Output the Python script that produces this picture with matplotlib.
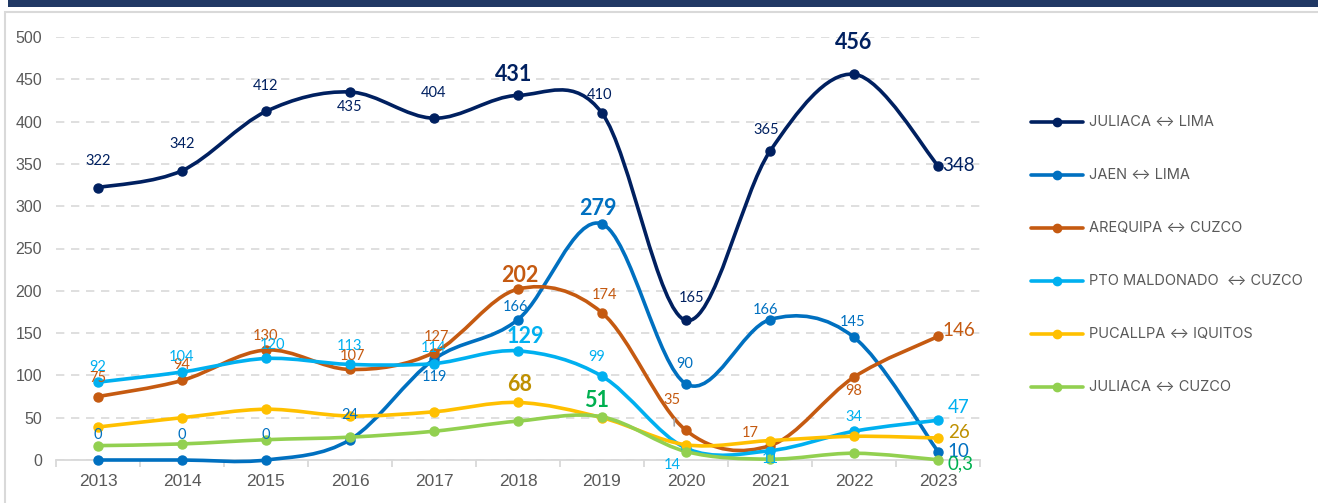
import matplotlib
matplotlib.use("Agg")
import matplotlib.pyplot as plt
from matplotlib.path import Path
from matplotlib.patches import PathPatch, Rectangle
from matplotlib.lines import Line2D

years = [2013, 2014, 2015, 2016, 2017, 2018, 2019, 2020, 2021, 2022, 2023]
juliaca_lima = [322, 342, 412, 435, 404, 431, 410, 165, 365, 456, 348]
jaen_lima = [0, 0, 0, 24, 119, 166, 279, 90, 166, 145, 10]
arequipa_cuzco = [75, 94, 130, 107, 127, 202, 174, 35, 17, 98, 146]
pto_maldonado_cuzco = [92, 104, 120, 113, 114, 129, 99, 14, 11, 34, 47]
pucallpa_iquitos = [39, 50, 60, 52, 57, 68, 50, 18, 23, 28, 26]
juliaca_cuzco = [17, 19, 24, 27, 34, 46, 51, 10, 1, 8, 0.3]

series_names = ["JULIACA \u2194 LIMA", "JAEN \u2194 LIMA", "AREQUIPA \u2194 CUZCO",
                "PTO MALDONADO  \u2194 CUZCO", "PUCALLPA \u2194 IQUITOS", "JULIACA \u2194 CUZCO"]
series_values = [juliaca_lima, jaen_lima, arequipa_cuzco, pto_maldonado_cuzco,
                 pucallpa_iquitos, juliaca_cuzco]
colors = ["#002060", "#0070C0", "#C55A11", "#00B0F0", "#FFC000", "#92D050"]

W, H = 1318, 503
fig = plt.figure(figsize=(W / 100, H / 100), dpi=100)
fig.patch.set_facecolor("white")

# header bar and frame
fig.patches.append(Rectangle((8 / W, 1 - 7 / H), 1 - 8 / W, 7 / H, transform=fig.transFigure,
                             facecolor="#203864", edgecolor="none"))
fig.patches.append(Rectangle((5 / W, -0.05), 1.2, 1 - 12 / H + 0.05, transform=fig.transFigure,
                             facecolor="none", edgecolor="#D9D9D9", linewidth=1.5))

ax = fig.add_axes([56 / W, 1 - 460 / H, (980 - 56) / W, (460 - 37) / H])
ax.set_xlim(2012.5, 2023.5)
ax.set_ylim(0, 500)
ax.set_yticks(range(0, 501, 50))
ax.set_xticks(years)
ax.set_xticks([y + 0.5 for y in [2012] + years], minor=True)
for s in ["top", "right", "left"]:
    ax.spines[s].set_visible(False)
ax.spines["bottom"].set_color("#D9D9D9")
ax.spines["bottom"].set_linewidth(1.3)
ax.spines["bottom"].set_zorder(0.5)
ax.grid(axis="y", color="#D9D9D9", linestyle=(0, (5, 4)), linewidth=1.2)
ax.set_axisbelow(True)
ax.tick_params(axis="y", length=0, labelsize=11.5, labelcolor="#595959", pad=10)
ax.tick_params(axis="x", which="major", length=0, labelsize=12.5, labelcolor="#595959", pad=10)
ax.tick_params(axis="x", which="minor", length=5, color="#D9D9D9", width=1.3)
for lbl in ax.get_xticklabels() + ax.get_yticklabels():
    lbl.set_fontfamily("Liberation Sans")


def smooth_path(xs, ys):
    n = len(xs)
    verts = [(xs[0], ys[0])]
    codes = [Path.MOVETO]
    for i in range(n - 1):
        x0, y0 = (xs[i - 1], ys[i - 1]) if i > 0 else (xs[i], ys[i])
        x1, y1 = xs[i], ys[i]
        x2, y2 = xs[i + 1], ys[i + 1]
        x3, y3 = (xs[i + 2], ys[i + 2]) if i + 2 < n else (x2, y2)
        c1 = (x1 + (x2 - x0) / 6, y1 + (y2 - y0) / 6)
        c2 = (x2 - (x3 - x1) / 6, y2 - (y3 - y1) / 6)
        verts += [c1, c2, (x2, y2)]
        codes += [Path.CURVE4] * 3
    return Path(verts, codes)


for vals, col in zip(series_values, colors):
    p = PathPatch(smooth_path(years, vals), facecolor="none", edgecolor=col,
                  linewidth=2.6, capstyle="round", zorder=3, clip_on=False)
    ax.add_patch(p)
    ax.plot(years, vals, linestyle="none", marker="o", markersize=6.5, color=col,
            zorder=4, clip_on=False)

LF = "Lato"


def lab(x, y, txt, col, dx=0, dy=14, size=10.5, bold=False, ha="center"):
    ax.annotate(txt, (x, y), xytext=(dx, dy), textcoords="offset points",
                ha=ha, va="center", color=col, fontsize=size, fontfamily=LF,
                fontweight="bold" if bold else "normal", zorder=6, annotation_clip=False)


# JULIACA-LIMA labels
c = "#002060"
offs = {0: (0, 19), 1: (0, 19), 2: (0, 18), 3: (0, -11), 4: (0, 18), 6: (-2, 13),
        7: (4, 16), 8: (-3, 15)}
for i, (dx, dy) in offs.items():
    lab(years[i], juliaca_lima[i], str(juliaca_lima[i]), c, dx, dy)
lab(years[5], juliaca_lima[5], "431", c, -3, 15, size=15.5, bold=True)
lab(years[9], juliaca_lima[9], "456", c, 0, 23, size=15.5, bold=True)
lab(years[10], juliaca_lima[10], "348", c, 3, 0, size=13.5, ha="left")

# JAEN-LIMA labels
c = "#0070C0"
offs = {0: (0, 18), 1: (0, 18), 2: (0, 18), 3: (0, 18), 4: (0, -13), 5: (-2, 9),
        7: (-1, 14), 8: (-3, 7), 9: (-1, 11)}
for i, (dx, dy) in offs.items():
    lab(years[i], jaen_lima[i], str(jaen_lima[i]), c, dx, dy)
lab(years[6], jaen_lima[6], "279", c, -3, 11, size=15.5, bold=True)
lab(years[10], jaen_lima[10], "10", c, 7, 0, size=13.5, ha="left")

# AREQUIPA-CUZCO labels
c = "#C55A11"
offs = {0: (0, 13), 1: (0, 11), 2: (0, 10), 3: (2, 10), 4: (2, 11), 6: (2, 13),
        7: (-10, 22), 8: (-14, 9), 9: (0, -10)}
for i, (dx, dy) in offs.items():
    lab(years[i], arequipa_cuzco[i], str(arequipa_cuzco[i]), c, dx, dy)
lab(years[5], arequipa_cuzco[5], "202", c, 1, 10, size=15.5, bold=True)
lab(years[10], arequipa_cuzco[10], "146", c, 3, 4, size=13.5, ha="left")
ax.annotate("", xy=(2019.86, 37), xytext=(2019.86, 52), xycoords="data",
            arrowprops=dict(arrowstyle="-", color="#A6A6A6", lw=1.2), zorder=5)

# PTO MALDONADO labels
c = "#00B0F0"
offs = {0: (0, 11), 1: (0, 11), 2: (5, 10), 3: (0, 13), 4: (0, 11), 6: (-4, 14),
        7: (-10, -12), 8: (0, -6), 9: (0, 10)}
for i, (dx, dy) in offs.items():
    lab(years[i], pto_maldonado_cuzco[i], str(pto_maldonado_cuzco[i]), c, dx, dy)
lab(years[5], pto_maldonado_cuzco[5], "129", c, 5, 10, size=15.5, bold=True)
lab(years[10], pto_maldonado_cuzco[10], "47", c, 7, 9, size=13.5, ha="left")

# PUCALLPA labels
c = "#BF9000"
lab(years[5], pucallpa_iquitos[5], "68", c, 1, 13, size=15.5, bold=True)
lab(years[10], pucallpa_iquitos[10], "26", c, 7, 4, size=13.5, ha="left")

# JULIACA-CUZCO labels
c = "#00B050"
lab(years[6], juliaca_cuzco[6], "51", c, -4, 12, size=15.5, bold=True)
lab(years[10], juliaca_cuzco[10], "0,3", c, 7, -3, size=13.5, ha="left")

# Legend (drawn manually in figure coords)
leg_y = [122, 175, 228, 281, 334, 387]
for name, col, yy in zip(series_names, colors, leg_y):
    fy = 1 - yy / H
    fig.add_artist(Line2D([1031 / W, 1083 / W], [fy, fy], transform=fig.transFigure,
                          color=col, linewidth=2.6, solid_capstyle="round"))
    fig.add_artist(Line2D([1057 / W], [fy], transform=fig.transFigure, color=col,
                          marker="o", markersize=6, linestyle="none"))
    fig.text(1089 / W, fy, name, ha="left", va="center", fontsize=10.5,
             color="#595959", fontfamily=["Inter", "DejaVu Sans"])

fig.savefig("out.png", dpi=100)
